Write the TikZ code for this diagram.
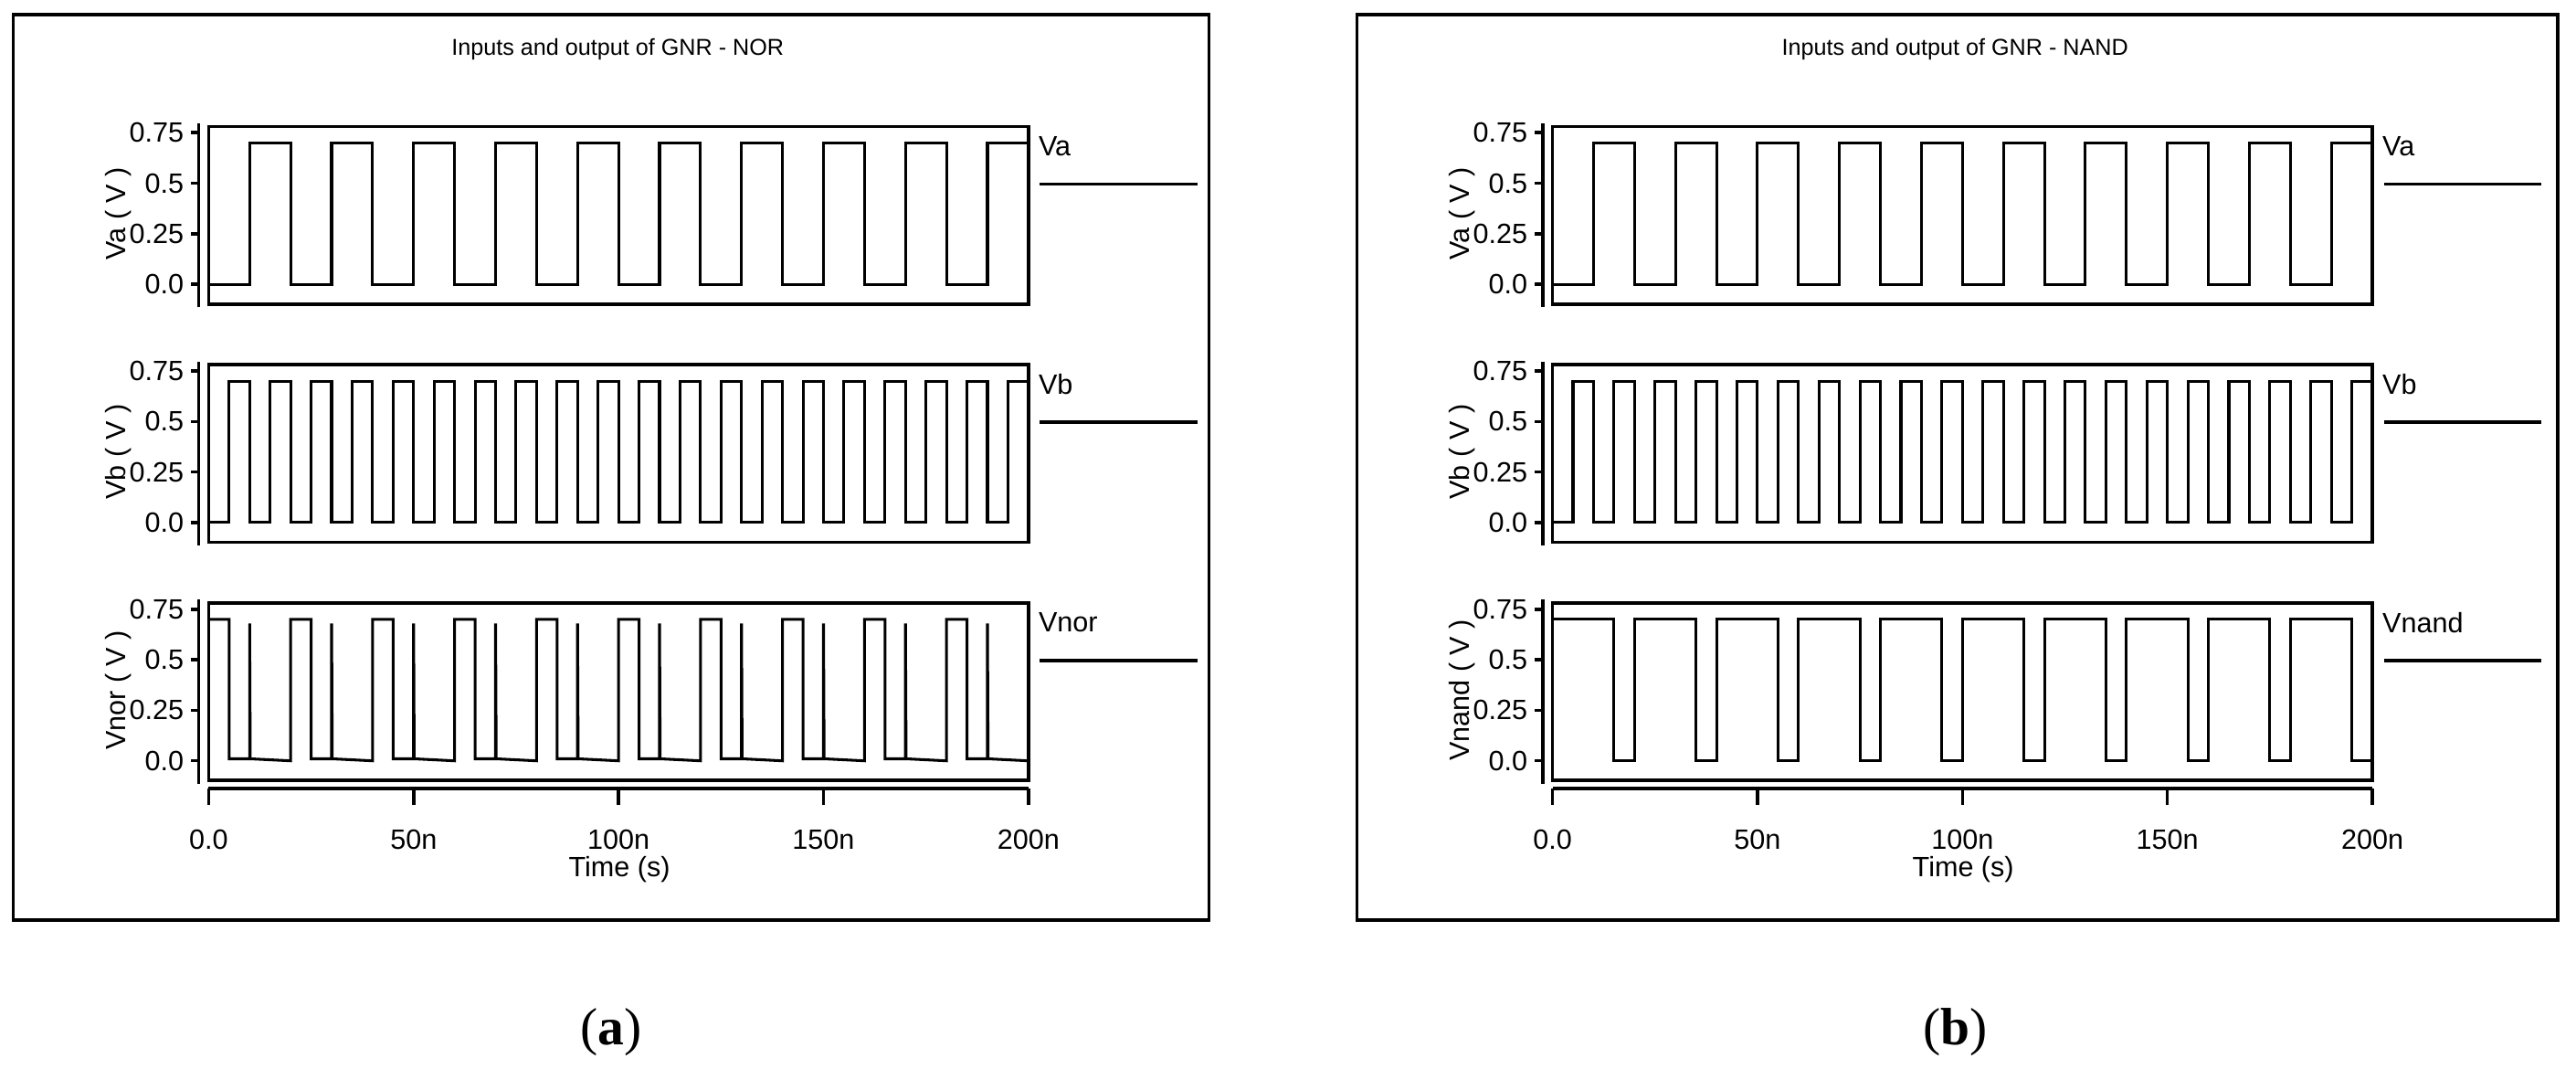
\documentclass[tikz,border=0pt]{standalone}
\usepackage{fontspec}
\setmainfont{Liberation Sans}
\newfontfamily\capfont{Liberation Serif}
\tikzset{
  frm/.style={line width=2pt},
  wave/.style={line width=1.7pt, line join=miter},
  ticklab/.style={font=\fontsize{17}{17}\selectfont, anchor=east, inner sep=0pt},
  ttl/.style={font=\fontsize{14}{14}\selectfont},
  leg/.style={font=\fontsize{17}{17}\selectfont, anchor=west, inner sep=0pt},
  captxt/.style={font=\capfont\fontsize{32}{32}\selectfont}
}
% #1 x-left of frame, #2 y of 0 V, #3 ylabel, #4 legend, #5 name
\newcommand\myplot[5]{%
  \draw[frm] (#1,#2-96) rectangle (#1+499,#2+12);
  \draw[frm] (#1-6,#2-98) -- (#1-6,#2+14);
  \foreach \v/\lab in {0/0.0,0.25/0.25,0.5/0.5,0.75/0.75}
    {\draw[frm] (#1-6,#2-123*\v) -- (#1-11,#2-123*\v);
     \node[ticklab] at (#1-15,#2-123*\v) {\lab};}
  \node[rotate=90, font=\fontsize{17}{17}\selectfont] (#5y) at (#1-55,#2-43) {#3};
  \node[leg] (#5l) at (#1+505,#2-84) {#4};
  \coordinate (#5a) at (#1+506,#2-61);
  \coordinate (#5b) at (#1+602,#2-61);
  \draw[frm] (#5a) -- (#5b);
}
\newcommand\xaxis[2]{%
  \draw[frm] (#1,#2) -- (#1+499,#2);
  \foreach \t/\lab in {0/0.0,50/50n,100/100n,150/150n,200/200n}
    {\draw[frm] (#1+2.495*\t,#2) -- (#1+2.495*\t,#2+10);
     \node[font=\fontsize{17}{17}\selectfont] at (#1+2.495*\t,#2+31) {\lab};}
  \node[font=\fontsize{17}{17}\selectfont] at (#1+250,#2+49) {Time (s)};
}
\begin{document}
\begin{tikzpicture}[x=1pt,y=-1pt]
\useasboundingbox (0,0) rectangle (1568,650);
\fill[white] (0,0) rectangle (1568,650);
% ---------- (a) NOR
\draw[frm] (8,9) rectangle (736,560);
\node[ttl] (ta) at (376,30) {Inputs and output of GNR - NOR};
\myplot{127}{173}{Va ( V )}{Va}{a1}
\myplot{127}{318}{Vb ( V )}{Vb}{a2}
\myplot{127}{463}{Vnor ( V )}{Vnor}{a3}
\xaxis{127}{480}
\begin{scope}[shift={(127,173)},x=2.495pt,y=123pt]
\draw[wave] (0,0) foreach \k in {0,...,8}{ -- ({10+20*\k},0) -- ({10+20*\k},0.7) -- ({20+20*\k},0.7) -- ({20+20*\k},0)} -- (190,0) -- (190,0.7) -- (200,0.7);
\end{scope}
\begin{scope}[shift={(127,318)},x=2.495pt,y=123pt]
\draw[wave] (0,0) foreach \k in {0,...,18}{ -- ({5+10*\k},0) -- ({5+10*\k},0.7) -- ({10+10*\k},0.7) -- ({10+10*\k},0)} -- (195,0) -- (195,0.7) -- (200,0.7);
\end{scope}
\begin{scope}[shift={(127,463)},x=2.495pt,y=123pt]
\draw[wave] (0,0.7) foreach \k in {0,...,8}{ -- ({20*\k+5},0.7) -- ({20*\k+5},0.01) -- ({20*\k+10},0.01) -- ({20*\k+10},0.68) -- ({20*\k+10.15},0.01) -- ({20*\k+20},0.0) -- ({20*\k+20},0.7)} -- (185,0.7) -- (185,0.01) -- (190,0.01) -- (190,0.68) -- (190.15,0.01) -- (200,0.0);
\end{scope}
\node[captxt] (ca) at (372,628) {(\textbf{a})};
% ---------- (b) NAND
\draw[frm] (826,9) rectangle (1557,560);
\node[ttl] (tb) at (1190,30) {Inputs and output of GNR - NAND};
\myplot{945}{173}{Va ( V )}{Va}{b1}
\myplot{945}{318}{Vb ( V )}{Vb}{b2}
\myplot{945}{463}{Vnand ( V )}{Vnand}{b3}
\xaxis{945}{480}
\begin{scope}[shift={(945,173)},x=2.495pt,y=123pt]
\draw[wave] (0,0) foreach \k in {0,...,8}{ -- ({10+20*\k},0) -- ({10+20*\k},0.7) -- ({20+20*\k},0.7) -- ({20+20*\k},0)} -- (190,0) -- (190,0.7) -- (200,0.7);
\end{scope}
\begin{scope}[shift={(945,318)},x=2.495pt,y=123pt]
\draw[wave] (0,0) foreach \k in {0,...,18}{ -- ({5+10*\k},0) -- ({5+10*\k},0.7) -- ({10+10*\k},0.7) -- ({10+10*\k},0)} -- (195,0) -- (195,0.7) -- (200,0.7);
\end{scope}
\begin{scope}[shift={(945,463)},x=2.495pt,y=123pt]
\draw[wave] (0,0.7) foreach \k in {0,...,8}{ -- ({20*\k+15},0.7) -- ({20*\k+15},0) -- ({20*\k+20},0) -- ({20*\k+20},0.7)} -- (195,0.7) -- (195,0) -- (200,0);
\end{scope}
\node[captxt] (cb) at (1190,628) {(\textbf{b})};
\end{tikzpicture}
\end{document}
